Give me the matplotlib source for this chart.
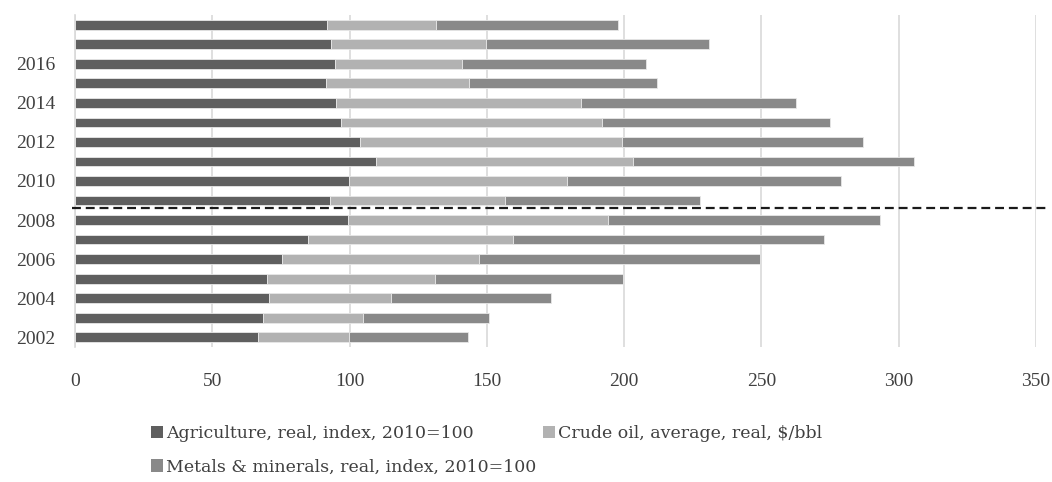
import matplotlib
matplotlib.use("Agg")
import matplotlib.pyplot as plt
from matplotlib.patches import Patch
import numpy as np

years = list(range(2002, 2019))
agriculture = [66.5, 68.3, 70.6, 70.1, 75.4, 85.0, 99.5, 92.7, 99.8, 109.6, 103.9, 96.9, 95.1, 91.5, 94.8, 93.3, 91.9]
crude_oil   = [33.2, 36.6, 44.5, 61.1, 71.9, 74.7, 94.5, 64.0, 79.5, 93.8, 95.4, 95.0, 89.1, 51.9, 46.0, 56.3, 39.6]
metals      = [43.6, 46.0, 58.1, 68.5, 102.0, 113.2, 99.2, 70.9, 99.8, 102.1, 87.6, 83.0, 78.5, 68.6, 67.2, 81.3, 66.1]
tick_years = [2002, 2004, 2006, 2008, 2010, 2012, 2014, 2016]
labels = ["Agriculture, real, index, 2010=100",
          "Crude oil, average, real, $/bbl",
          "Metals & minerals, real, index, 2010=100"]
colors = ["#5f5f5f", "#b2b2b2", "#898989"]
break_year = 2008.62

plt.rcParams['font.family'] = ['Liberation Serif', 'DejaVu Serif']

fig = plt.figure(figsize=(10.52, 4.82), dpi=100)
ax = fig.add_axes([0.0713, 0.280, 0.9135, 0.689])

y = np.array(years)
a = np.array(agriculture); o = np.array(crude_oil); m = np.array(metals)
ax.barh(y, a, height=0.5, color=colors[0], edgecolor="#e8e8e8", linewidth=0.6, zorder=3)
ax.barh(y, o, left=a, height=0.5, color=colors[1], edgecolor="#e8e8e8", linewidth=0.6, zorder=3)
ax.barh(y, m, left=a + o, height=0.5, color=colors[2], edgecolor="#e8e8e8", linewidth=0.6, zorder=3)

ax.set_xlim(0, 350)
ax.set_ylim(2001.5, 2018.5)
ax.set_xticks(range(0, 351, 50))
ax.set_yticks(tick_years)
ax.set_yticklabels([str(t) for t in tick_years])
ax.grid(axis='x', color='#d9d9d9', linewidth=1.2, zorder=0)
for s in ['top', 'right', 'bottom']:
    ax.spines[s].set_visible(False)
ax.spines['left'].set_color('#d9d9d9')
ax.spines['left'].set_linewidth(1.2)
ax.tick_params(axis='both', length=0, labelsize=14, colors='#404040')
ax.tick_params(axis='x', pad=19)
ax.tick_params(axis='y', pad=14)

ax.plot([-1, 354], [break_year, break_year], linestyle=(0, (4, 2.2)), color='#1a1a1a',
        linewidth=1.6, clip_on=False, zorder=5)

leg_kw = dict(frameon=False, prop={'family': 'DejaVu Serif', 'size': 12.5},
              handlelength=0.7, handleheight=0.7, handletextpad=0.15,
              labelcolor='#404040', borderaxespad=0, loc='upper left')
leg1 = fig.legend([Patch(facecolor=colors[0]), Patch(facecolor=colors[1])],
                  [labels[0], labels[1]], ncol=2, columnspacing=4.0,
                  bbox_to_anchor=(0.137, 0.132), **leg_kw)
leg2 = fig.legend([Patch(facecolor=colors[2])], [labels[2]], ncol=1,
                  bbox_to_anchor=(0.137, 0.063), **leg_kw)

fig.savefig("out.png", dpi=100)
